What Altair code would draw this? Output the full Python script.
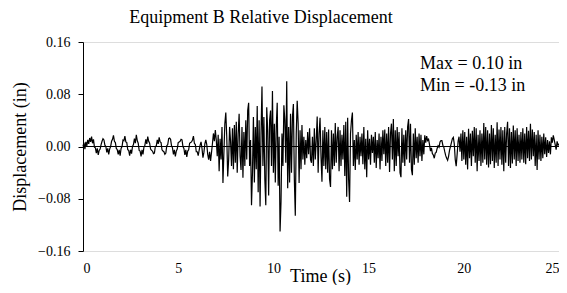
import altair as alt
import pandas as pd

# Displacement samples in thousandths of an inch, one row per second (dt = 0.05 s)
early_sway = [
    0, 6, -4, 7, 1, 10, 4, 13, 7, 15, 5, 11, -1, -2, -10, -3, -13, -6, -4, 3,
    8, 12, 10, 2, 0, -9, -3, -12, -4, 0, 8, 11, 17, 8, 6, -3, -5, -12, -5, -14,
    -3, 0, 10, 9, 16, 7, 6, -5, -6, -14, -5, -11, 0, 3, 12, 5, 18, 9, 5, -6,
    -7, -15, -5, -12, -1, 2, 11, 4, 15, 8, 5, -4, -6, -7, -11, -10, 0, 1, 10, 4,
    14, 7, 6, -5, -7, -8, -12, -10, 1, 3, 12, 13, 11, 1, -2, -12, -5, -15, -7, -4,
    6, 7, 8, 11, 10, 0, -3, -13, -5, -16, -7, -5, 5, 6, 7, 10, 16, 5, 3, -8,
    -8, -14, -6, 2, 7, -3, -17, -9, 4, 10, 3, -12, -20, -8, -22, -9, 5, 20, 8, 25,
]
strong_motion = [
    10, -15, 18, -38, 12, -20, 30, -56, -10, 35, 52, 15, -46, -20, 30, 8, -30, 28, -35, 33,
    -25, 38, -40, 20, 50, -15, -36, 30, -48, 22, -30, 40, -20, 55, 67, -30, 10, -90, -40, 45,
    -55, 30, -35, 62, -70, 40, -92, 20, 92, -30, 45, -50, -90, 60, 25, -75, 40, 55, -30, 85,
    -40, 35, -55, 30, 67, -60, 15, -130, -85, 20, -30, 63, 40, -25, 100, -64, 30, -55, 50, -40,
    45, 65, -50, -106, 20, 70, 35, -56, 25, -35, 33, -20, 15, -28, 10, -18, 22, -12, 28, -20,
    -25, 15, -30, 28, -20, 10, 46, -40, 20, 44, -15, -54, 25, -30, 30, -35, 22, -40, 26, -50,
    -62, 25, -35, 20, -30, 36, -25, 15, 30, -38, 25, -30, 18, -20, 33, -45, 38, -77, 44, -50,
    -85, 20, 40, 52, -30, 10, -36, 18, -20, 22, -28, 15, -15, 20, -27, 30, -35, 12, -47, 25,
    -20, 12, -28, 18, -10, 15, -25, 22, -33, 10, -18, 20, -35, 15, -22, 25, -12, 26, -30, 20,
    -25, 30, -39, 20, 35, -20, 42, -38, 25, -30, 30, -15, 22, -40, -47, 28, -25, 18, -30, 25,
    -20, 30, 42, -25, 35, -35, -44, 20, -28, 28, -18, 15, -25, 20, -15, 18, -22, 10, -12, 17,
]
late_motion = [
    6, 16, 9, 11, 3, -7, -2, -11, -13, -18, -10, -9, -3, 1, -1, 7, 9, 9, 2, -1,
    -8, -14, -18, -21, -15, -6, 0, 6, 12, 14, 4, -20, -30, -12, 8, 15, -8, 20, -22, 25,
    -20, 22, -28, 15, -35, 27, -18, 20, -30, 24, -15, 30, -25, 28, -38, 18, -22, 25, -30, 20,
    -25, 36, -20, 30, -28, 25, -32, 20, -27, 33, -22, 28, -33, 18, -25, 37, -30, 26, -20, 30,
    -28, 25, -38, 30, -25, 20, 38, -30, 28, -33, 22, -26, 32, -20, 25, -30, 28, -22, 18, -25,
    22, -20, 28, -25, 20, -27, 30, -18, 24, -22, 35, -20, 26, -15, 22, -30, 18, -36, 25, -20,
    18, -22, 15, -18, 20, -12, 14, -16, 10, -10, 8, -12, 14, 6, 17, 10, 3, -5, 8, 2, 4,
]
time_step_s = 0.05
y_ticks = [-0.16, -0.08, 0.0, 0.08, 0.16]
x_ticks = [0, 5, 10, 15, 20, 25]
max_note = "Max = 0.10 in"
min_note = "Min = -0.13 in"

disp = early_sway + strong_motion + late_motion
df = pd.DataFrame({
    "t": [round(i * time_step_s, 2) for i in range(len(disp))],
    "d": [v / 1000.0 for v in disp],
})

FONT = "Liberation Serif"

line = alt.Chart(df).mark_line(color="black", strokeWidth=1.2).encode(
    x=alt.X("t:Q", scale=alt.Scale(domain=[0, 25], nice=False),
            axis=alt.Axis(values=x_ticks, format="d", title="Time (s)", ticks=False,
                          domain=False, grid=False, labelPadding=10,
                          titleX=237, titleY=30, titleBaseline="alphabetic",
                          titleFontSize=18, titleFontWeight="normal", titleFont=FONT,
                          labelFont=FONT, labelFontSize=14, labelColor="black",
                          titleColor="black")),
    y=alt.Y("d:Q", scale=alt.Scale(domain=[-0.16, 0.16], nice=False, zero=False),
            axis=alt.Axis(values=y_ticks, format=".2f", title="Displacement (in)",
                          grid=False, domainColor="black", tickColor="black", tickSize=5,
                          labelPadding=8, titleAngle=-90, titleX=-63, titleY=104.5,
                          titleAlign="center", titleBaseline="middle",
                          titleFontSize=18, titleFontWeight="normal", titleFont=FONT,
                          labelFont=FONT, labelFontSize=14, labelColor="black",
                          titleColor="black")),
)

zero_rule = alt.Chart(pd.DataFrame({"d": [0.0]})).mark_rule(color="black", strokeWidth=1).encode(
    y="d:Q"
)

max_text = alt.Chart(pd.DataFrame({"txt": [max_note]})).mark_text(
    align="left", baseline="alphabetic", font=FONT, fontSize=18, color="black"
).encode(x=alt.value(337), y=alt.value(27), text="txt:N")

min_text = alt.Chart(pd.DataFrame({"txt": [min_note]})).mark_text(
    align="left", baseline="alphabetic", font=FONT, fontSize=18, color="black"
).encode(x=alt.value(337), y=alt.value(49), text="txt:N")

chart = alt.layer(zero_rule, line, max_text, min_text).properties(
    width=476,
    height=209,
    padding={"left": 75, "top": 34, "right": 0, "bottom": 34},
    autosize=alt.AutoSizeParams(type="none"),
    title=alt.TitleParams("Equipment B Relative Displacement", font=FONT, fontSize=18,
                          fontWeight="normal", color="black", anchor="middle",
                          dx=-60, offset=8),
).configure_view(stroke="#9a9a9a", strokeWidth=1).configure(background="white")

chart.save("out.html", embed_options={"renderer": "svg", "actions": False})
